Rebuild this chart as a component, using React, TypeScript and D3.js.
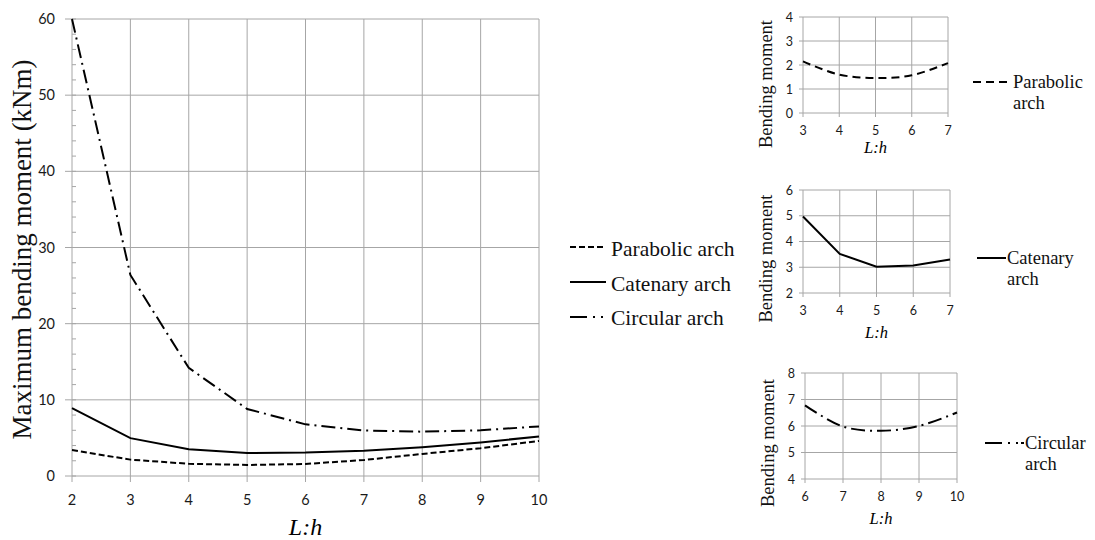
import React from "react";
import * as d3 from "d3";

const ratios = [2, 3, 4, 5, 6, 7, 8, 9, 10];
const parabolic = [3.4, 2.15, 1.6, 1.45, 1.58, 2.1, 2.9, 3.65, 4.6];
const catenary = [8.9, 4.97, 3.52, 3.02, 3.07, 3.3, 3.77, 4.4, 5.2];
const circular = [60.2, 26.4, 14.2, 8.8, 6.78, 5.98, 5.82, 6.0, 6.51];
const mainYTicks = [0, 10, 20, 30, 40, 50, 60];
const mainMinorTicks = d3.range(0, 61, 2);

const parabolicSmallX = [3, 4, 5, 6, 7];
const parabolicSmallY = [2.15, 1.6, 1.46, 1.57, 2.08];
const catenarySmallX = [3, 4, 5, 6, 7];
const catenarySmallY = [4.97, 3.52, 3.02, 3.07, 3.3];
const circularSmallX = [6, 7, 8, 9, 10];
const circularSmallY = [6.78, 5.98, 5.82, 6.0, 6.51];

const seriesNames = ["Parabolic arch", "Catenary arch", "Circular arch"];

const GRID = "#a6a6a6";
const TICKFONT = "Lato, 'Open Sans', sans-serif";
const SERIF = "'Liberation Serif', 'Times New Roman', serif";
const DASH_PARA = "6,3";
const DASH_CIRC = "14,5,2,5";
const DASH_CIRC_LEG = "17,6,2,6,2,3";
const DASHES = [DASH_PARA, "none", DASH_CIRC];
const LEG_DASHES = [DASH_PARA, "none", DASH_CIRC_LEG];

type SmallProps = {
  xs: number[];
  ys: number[];
  xDomain: [number, number];
  yDomain: [number, number];
  box: { l: number; r: number; t: number; b: number };
  dash: string;
  legDash: string;
  legendLines: string[];
  legend: { x1: number; x2: number; y: number };
  curve: any;
  xTitleDy: number;
  yTitleDy: number;
};

function SmallChart(p: SmallProps) {
  const x = d3.scaleLinear().domain(p.xDomain).range([p.box.l, p.box.r]);
  const y = d3.scaleLinear().domain(p.yDomain).range([p.box.b, p.box.t]);
  const xt = d3.range(p.xDomain[0], p.xDomain[1] + 1, 1);
  const yt = d3.range(p.yDomain[0], p.yDomain[1] + 1, 1);
  const line = d3
    .line<number>()
    .x((_, i) => x(p.xs[i]))
    .y((d) => y(d))
    .curve(p.curve);
  const cx = (p.box.l + p.box.r) / 2;
  const cy = (p.box.t + p.box.b) / 2;
  return (
    <g>
      {xt.map((v) => (
        <line key={"gx" + v} x1={x(v)} x2={x(v)} y1={p.box.t} y2={p.box.b + 4} stroke={GRID} strokeWidth={1} />
      ))}
      {yt.map((v) => (
        <line key={"gy" + v} x1={p.box.l - 4} x2={p.box.r} y1={y(v)} y2={y(v)} stroke={GRID} strokeWidth={1} />
      ))}
      {xt.map((v) => (
        <text key={"tx" + v} x={x(v)} y={p.box.b + 22} textAnchor="middle" fontFamily={TICKFONT} fontSize={12.5} fill="#1a1a1a">
          {v}
        </text>
      ))}
      {yt.map((v) => (
        <text key={"ty" + v} x={p.box.l - 10} y={y(v) + 4.5} textAnchor="end" fontFamily={TICKFONT} fontSize={12.5} fill="#1a1a1a">
          {v}
        </text>
      ))}
      <path d={line(p.ys) || ""} fill="none" stroke="#000" strokeWidth={2} strokeDasharray={p.dash} />
      <text x={cx} y={p.box.b + p.xTitleDy} textAnchor="middle" fontFamily={SERIF} fontStyle="italic" fontSize={16.5}>
        L:h
      </text>
      <text
        transform={`translate(${p.box.l - 31},${cy + p.yTitleDy}) rotate(-90)`}
        textAnchor="middle"
        fontFamily={SERIF}
        fontSize={18.5}
        fill="#111"
      >
        Bending moment
      </text>
      <line x1={p.legend.x1} x2={p.legend.x2} y1={p.legend.y} y2={p.legend.y} stroke="#000" strokeWidth={2} strokeDasharray={p.legDash} />
      {p.legendLines.map((t, i) => (
        <text key={t} x={p.legend.x2 + 1} y={p.legend.y + 6 + i * 21} fontFamily={SERIF} fontSize={18.5} fill="#111">
          {t}
        </text>
      ))}
    </g>
  );
}

export default function App() {
  const L = 72, R = 539, T = 19, B = 476;
  const x = d3.scaleLinear().domain([2, 10]).range([L, R]);
  const y = d3.scaleLinear().domain([0, 60]).range([B, T]);
  const mk = (vals: number[]) =>
    d3
      .line<number>()
      .x((_, i) => x(ratios[i]))
      .y((d) => y(Math.min(d, 60)))(vals) || "";
  const series = [parabolic, catenary, circular];

  return (
    <svg width={1095} height={540} style={{ position: "absolute", left: 0, top: 0, background: "#fff" }}>
      <rect width={1095} height={540} fill="#fff" />
      {ratios.map((v) => (
        <line key={"mgx" + v} x1={x(v)} x2={x(v)} y1={T} y2={B + 6} stroke={GRID} strokeWidth={1} />
      ))}
      {mainYTicks.map((v) => (
        <line key={"mgy" + v} x1={L - 7} x2={R} y1={y(v)} y2={y(v)} stroke={GRID} strokeWidth={1} />
      ))}
      {mainMinorTicks.map((v) => (
        <line key={"mmn" + v} x1={L} x2={L + 4} y1={y(v)} y2={y(v)} stroke={GRID} strokeWidth={1} />
      ))}
      {ratios.map((v) => (
        <text key={"mtx" + v} x={x(v)} y={B + 29} textAnchor="middle" fontFamily={TICKFONT} fontSize={14.5} fill="#1a1a1a">
          {v}
        </text>
      ))}
      {mainYTicks.map((v) => (
        <text key={"mty" + v} x={L - 17} y={y(v) + 5} textAnchor="end" fontFamily={TICKFONT} fontSize={14.5} fill="#1a1a1a">
          {v}
        </text>
      ))}
      {series.map((s, i) => (
        <path key={"ms" + i} d={mk(s)} fill="none" stroke="#000" strokeWidth={2} strokeDasharray={DASHES[i]} />
      ))}
      <text x={(L + R) / 2} y={535} textAnchor="middle" fontFamily={SERIF} fontStyle="italic" fontSize={24}>
        L:h
      </text>
      <text
        transform={`translate(31,${(T + B) / 2 + 2}) rotate(-90)`}
        textAnchor="middle"
        fontFamily={SERIF}
        fontSize={27}
        fill="#111"
      >
        Maximum bending moment (kNm)
      </text>
      {seriesNames.map((n, i) => (
        <g key={n}>
          <line x1={570} x2={606} y1={247 + i * 35} y2={247 + i * 35} stroke="#000" strokeWidth={2} strokeDasharray={LEG_DASHES[i]} />
          <text x={611} y={256 + i * 34.5} fontFamily={SERIF} fontSize={21.5} fill="#111">
            {n}
          </text>
        </g>
      ))}
      <SmallChart
        xs={parabolicSmallX}
        ys={parabolicSmallY}
        xDomain={[3, 7]}
        yDomain={[0, 4]}
        box={{ l: 803, r: 948, t: 17, b: 113 }}
        dash="8,5"
        legDash="8,5"
        legendLines={["Parabolic", "arch"]}
        legend={{ x1: 973, x2: 1012, y: 82 }}
        curve={d3.curveCatmullRom}
        xTitleDy={40}
        yTitleDy={19}
      />
      <SmallChart
        xs={catenarySmallX}
        ys={catenarySmallY}
        xDomain={[3, 7]}
        yDomain={[2, 6]}
        box={{ l: 803, r: 950, t: 190, b: 293 }}
        dash="none"
        legDash="none"
        legendLines={["Catenary", "arch"]}
        legend={{ x1: 977, x2: 1006, y: 258 }}
        curve={d3.curveLinear}
        xTitleDy={45}
        yTitleDy={17}
      />
      <SmallChart
        xs={circularSmallX}
        ys={circularSmallY}
        xDomain={[6, 10]}
        yDomain={[4, 8]}
        box={{ l: 805, r: 957, t: 373, b: 479 }}
        dash={DASH_CIRC}
        legDash={DASH_CIRC_LEG}
        legendLines={["Circular", "arch"]}
        legend={{ x1: 985, x2: 1024, y: 443 }}
        curve={d3.curveCatmullRom}
        xTitleDy={45}
        yTitleDy={17}
      />
    </svg>
  );
}
